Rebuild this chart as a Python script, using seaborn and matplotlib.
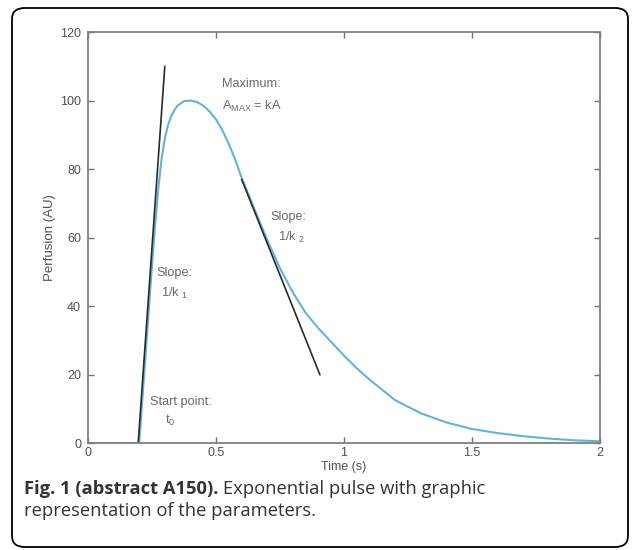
import matplotlib
matplotlib.use("Agg")
import matplotlib.pyplot as plt
from matplotlib.patches import FancyBboxPatch
import seaborn as sns

# pulse curve
time_s = [0.0, 0.1, 0.2, 0.225, 0.25, 0.2625, 0.275, 0.2875, 0.3, 0.3125,
          0.325, 0.3375, 0.35, 0.375, 0.4, 0.425, 0.45, 0.475, 0.5, 0.525,
          0.55, 0.575, 0.6, 0.65, 0.7, 0.75, 0.8, 0.85, 0.9, 0.95, 1.0,
          1.05, 1.1, 1.2, 1.3, 1.4, 1.5, 1.6, 1.7, 1.8, 1.9, 2.0]
perfusion = [0, 0, 0, 26, 52, 64, 74.5, 83, 88.8, 92.8,
             95.4, 97.2, 98.5, 99.8, 100, 99.6, 98.5, 96.8, 94.5, 91.3,
             87.3, 82.8, 77.5, 68.3, 59.3, 51, 44, 38, 33.5, 29.5, 25.5,
             21.8, 18.5, 12.5, 8.7, 6.0, 4.1, 2.9, 2.0, 1.3, 0.8, 0.5]

# tangent lines (rise and fall)
rise_t = [0.196, 0.30]
rise_v = [0, 110]
fall_t = [0.60, 0.906]
fall_v = [77.0, 19.9]

x_ticks = [0, 0.5, 1, 1.5, 2]
x_tick_labels = ["0", "0.5", "1", "1.5", "2"]
y_ticks = [0, 20, 40, 60, 80, 100, 120]

sns.set_theme(style="white")
plt.rcParams["font.family"] = ["Liberation Sans", "DejaVu Sans"]

fig = plt.figure(figsize=(6.34, 5.5), dpi=100)
ax = fig.add_axes([0.1388, 0.1945, 0.8076, 0.7473])

sns.lineplot(x=time_s, y=perfusion, ax=ax, color="#64b2da", linewidth=1.5)
sns.lineplot(x=rise_t, y=rise_v, ax=ax, color="#2a2a2a", linewidth=1.2)
sns.lineplot(x=fall_t, y=fall_v, ax=ax, color="#2a2a2a", linewidth=1.2)

ax.set_xlim(0, 2)
ax.set_ylim(0, 120)
ax.set_xticks(x_ticks)
ax.set_xticklabels(x_tick_labels)
ax.set_yticks(y_ticks)
ax.tick_params(direction="in", bottom=True, left=True, top=True, right=True,
               length=4, width=1, color="#707070", labelsize=9,
               labelcolor="#505050", pad=5)
ax.tick_params(axis="x", pad=3)
for sp in ax.spines.values():
    sp.set_visible(True)
    sp.set_color("#808080")
    sp.set_linewidth(1.3)

ax.set_xlabel("Time (s)", fontsize=9, color="#505050", labelpad=1.5)
ax.set_ylabel("Perfusion (AU)", fontsize=9.5, color="#505050", labelpad=3)

# annotations
txt = dict(fontsize=9.2, color="#6a6a6a", va="center", ha="left")
ax.text(0.523, 104.8, "Maximum:", **txt)
ax.text(0.523, 98.4, r"A$_{\mathregular{MAX}}$ = kA", **txt)
ax.text(0.711, 66.0, "Slope:", **txt)
ax.text(0.742, 59.9, r"1/k $_{\mathregular{2}}$", **txt)
ax.text(0.268, 49.6, "Slope:", **txt)
ax.text(0.287, 43.8, r"1/k $_{\mathregular{1}}$", **txt)
ax.text(0.242, 12.0, "Start point:", **txt)
ax.text(0.301, 6.7, r"t$_{\mathregular{0}}$", **txt)

# caption
cap = dict(fontsize=13.2, color="#333333", va="center", ha="left",
           family=["Open Sans", "DejaVu Sans"])
cap_x = 24 / 634
bold = fig.text(cap_x, 1 - 489 / 550, "Fig. 1 (abstract A150).",
                fontweight="bold", **cap)
fig.canvas.draw()
bb = bold.get_window_extent()
fig.text(bb.x1 / fig.bbox.width + 5 / 634, 1 - 489 / 550,
         "Exponential pulse with graphic", **cap)
fig.text(cap_x, 1 - 511 / 550, "representation of the parameters.", **cap)

# rounded frame round the whole figure
frame = FancyBboxPatch((12 / 634, 1 - 547 / 550), (628 - 12) / 634,
                       (547 - 8) / 550,
                       boxstyle="round,pad=0,rounding_size=0.02",
                       transform=fig.transFigure, fill=False,
                       edgecolor="black", linewidth=1.3)
fig.patches.append(frame)

fig.savefig("out.png", dpi=100)
